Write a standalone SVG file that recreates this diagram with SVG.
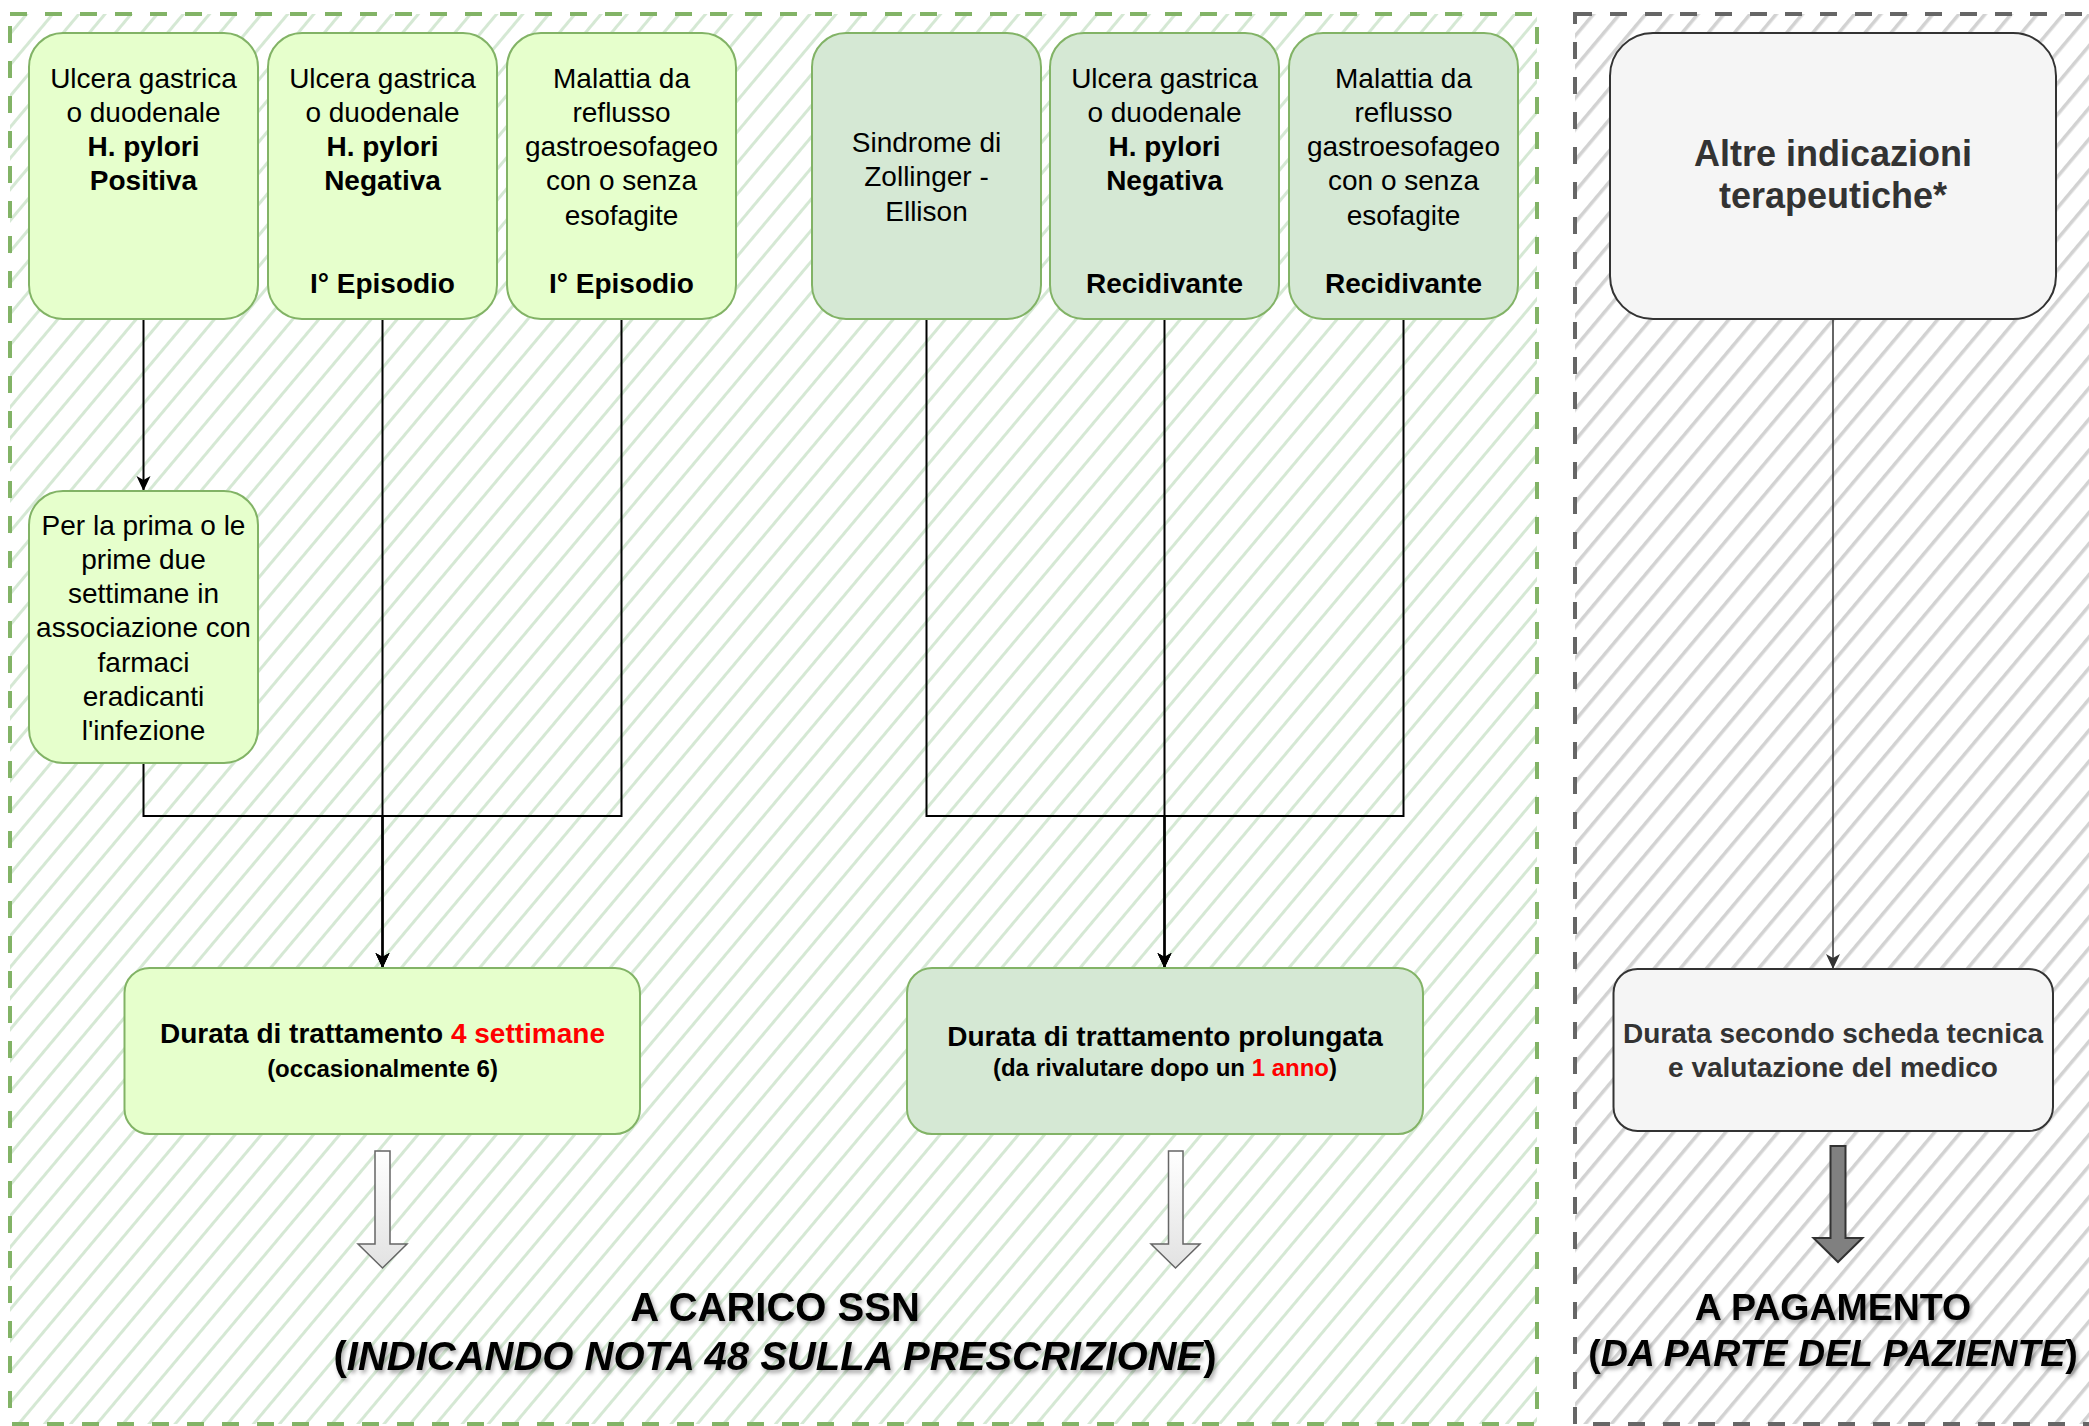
<svg xmlns="http://www.w3.org/2000/svg" width="2089" height="1426" viewBox="0 0 2089 1426">
<style>
  text { font-family: "Liberation Sans", Arial, sans-serif; text-anchor: middle; }
  .t28 { font-size: 28px; fill: #000; }
  .b { font-weight: bold; }
  .red { fill: #ff0000; }
  .g33 { fill: #333333; }
  .nodeL { fill: #e6ffcc; stroke: #82b366; stroke-width: 2; }
  .nodeD { fill: #d5e8d4; stroke: #82b366; stroke-width: 2; }
  .nodeG { fill: #f5f5f5; stroke: #333333; stroke-width: 2; }
  .edge { fill: none; stroke: #000; stroke-width: 2; marker-end: url(#arr); }
  .edgeG { fill: none; stroke: #333; stroke-width: 1.5; marker-end: url(#arrG); }
  .big { font-size: 40px; font-weight: bold; fill: #000; filter: url(#tshadow); }
</style>
<defs>
  <pattern id="hatchG" patternUnits="userSpaceOnUse" width="60" height="20" patternTransform="rotate(-50)">
    <rect x="0" y="8" width="60" height="3" fill="#d5e8d4"/>
  </pattern>
  <pattern id="hatchK" patternUnits="userSpaceOnUse" width="60" height="20" patternTransform="rotate(-50)">
    <rect x="0" y="8" width="60" height="3.5" fill="#d2d2d2"/>
  </pattern>
  <marker id="arr" markerUnits="userSpaceOnUse" viewBox="0 0 15 16" markerWidth="15" markerHeight="16" refX="15" refY="8" orient="auto">
    <path d="M0,1 L15,8 L0,15 L4,8 Z" fill="#000"/>
  </marker>
  <marker id="arrG" markerUnits="userSpaceOnUse" viewBox="0 0 15 16" markerWidth="15" markerHeight="16" refX="15" refY="8" orient="auto">
    <path d="M0,1 L15,8 L0,15 L4,8 Z" fill="#333"/>
  </marker>
  <linearGradient id="wgrad" x1="0" y1="0" x2="0" y2="1">
    <stop offset="0" stop-color="#ffffff"/>
    <stop offset="1" stop-color="#e2e2e2"/>
  </linearGradient>
  <filter id="tshadow" x="-10%" y="-40%" width="125%" height="190%">
    <feDropShadow dx="2" dy="3" stdDeviation="2" flood-color="#000" flood-opacity="0.35"/>
  </filter>
</defs>

<g id="containers">
  <rect id="ssn-area" x="10" y="14" width="1527" height="1410" fill="url(#hatchG)" stroke="#82b366" stroke-width="4" stroke-dasharray="17 18"/>
  <rect id="pay-area" x="1575" y="14" width="520" height="1410" fill="url(#hatchK)" stroke="#666666" stroke-width="4" stroke-dasharray="17 18"/>
</g>

<g id="connectors">
  <path class="edge" d="M143.5,319 V491"/>
  <path class="edge" d="M143.5,763 V816 H382.5 V968"/>
  <path class="edge" d="M382.5,319 V968"/>
  <path class="edge" d="M621.5,319 V816 H382.5 V968"/>
  <path class="edge" d="M926.5,319 V816 H1164.5 V968"/>
  <path class="edge" d="M1164.5,319 V968"/>
  <path class="edge" d="M1403.5,319 V816 H1164.5 V968"/>
  <path class="edgeG" d="M1833,319 V969"/>
</g>

<g id="n-hp-pos">
  <rect class="nodeL" x="29" y="33" width="229" height="286" rx="34"/>
  <text class="t28" x="143.5" y="87.5">Ulcera gastrica</text>
  <text class="t28" x="143.5" y="121.8">o duodenale</text>
  <text class="t28 b" x="143.5" y="156">H. pylori</text>
  <text class="t28 b" x="143.5" y="190.3">Positiva</text>
</g>
<g id="n-hp-neg-1">
  <rect class="nodeL" x="268" y="33" width="229" height="286" rx="34"/>
  <text class="t28" x="382.5" y="87.5">Ulcera gastrica</text>
  <text class="t28" x="382.5" y="121.8">o duodenale</text>
  <text class="t28 b" x="382.5" y="156">H. pylori</text>
  <text class="t28 b" x="382.5" y="190.3">Negativa</text>
  <text class="t28 b" x="382.5" y="293">I° Episodio</text>
</g>
<g id="n-gerd-1">
  <rect class="nodeL" x="507" y="33" width="229" height="286" rx="34"/>
  <text class="t28" x="621.5" y="87.5">Malattia da</text>
  <text class="t28" x="621.5" y="121.8">reflusso</text>
  <text class="t28" x="621.5" y="156">gastroesofageo</text>
  <text class="t28" x="621.5" y="190.3">con o senza</text>
  <text class="t28" x="621.5" y="224.6">esofagite</text>
  <text class="t28 b" x="621.5" y="293">I° Episodio</text>
</g>
<g id="n-zollinger">
  <rect class="nodeD" x="812" y="33" width="229" height="286" rx="34"/>
  <text class="t28" x="926.5" y="152">Sindrome di</text>
  <text class="t28" x="926.5" y="186.3">Zollinger -</text>
  <text class="t28" x="926.5" y="220.6">Ellison</text>
</g>
<g id="n-hp-neg-rec">
  <rect class="nodeD" x="1050" y="33" width="229" height="286" rx="34"/>
  <text class="t28" x="1164.5" y="87.5">Ulcera gastrica</text>
  <text class="t28" x="1164.5" y="121.8">o duodenale</text>
  <text class="t28 b" x="1164.5" y="156">H. pylori</text>
  <text class="t28 b" x="1164.5" y="190.3">Negativa</text>
  <text class="t28 b" x="1164.5" y="293">Recidivante</text>
</g>
<g id="n-gerd-rec">
  <rect class="nodeD" x="1289" y="33" width="229" height="286" rx="34"/>
  <text class="t28" x="1403.5" y="87.5">Malattia da</text>
  <text class="t28" x="1403.5" y="121.8">reflusso</text>
  <text class="t28" x="1403.5" y="156">gastroesofageo</text>
  <text class="t28" x="1403.5" y="190.3">con o senza</text>
  <text class="t28" x="1403.5" y="224.6">esofagite</text>
  <text class="t28 b" x="1403.5" y="293">Recidivante</text>
</g>
<g id="n-altre">
  <rect class="nodeG" x="1610" y="33" width="446" height="286" rx="43"/>
  <text class="b g33" style="font-size:36px" x="1833" y="165.7">Altre indicazioni</text>
  <text class="b g33" style="font-size:36px" x="1833" y="208">terapeutiche*</text>
</g>
<g id="n-eradicanti">
  <rect class="nodeL" x="29" y="491" width="229" height="272" rx="34"/>
  <text class="t28" x="143.5" y="534.5">Per la prima o le</text>
  <text class="t28" x="143.5" y="568.8">prime due</text>
  <text class="t28" x="143.5" y="603">settimane in</text>
  <text class="t28" x="143.5" y="637.3">associazione con</text>
  <text class="t28" x="143.5" y="671.6">farmaci</text>
  <text class="t28" x="143.5" y="706">eradicanti</text>
  <text class="t28" x="143.5" y="740.3">l'infezione</text>
</g>
<g id="n-durata-4">
  <rect class="nodeL" x="124.5" y="968" width="515.5" height="166" rx="25"/>
  <text class="t28 b" x="382.5" y="1043">Durata di trattamento <tspan class="red">4 settimane</tspan></text>
  <text class="b" style="font-size:24px" x="382.5" y="1077">(occasionalmente 6)</text>
</g>
<g id="n-durata-prol">
  <rect class="nodeD" x="907" y="968" width="516" height="166" rx="25"/>
  <text class="t28 b" x="1165" y="1046">Durata di trattamento prolungata</text>
  <text class="b" style="font-size:24px" x="1165" y="1076">(da rivalutare dopo un <tspan class="red">1 anno</tspan>)</text>
</g>
<g id="n-durata-scheda">
  <rect class="nodeG" x="1613.5" y="969" width="439.5" height="162" rx="24"/>
  <text class="t28 b g33" x="1833" y="1043">Durata secondo scheda tecnica</text>
  <text class="t28 b g33" x="1833" y="1077">e valutazione del medico</text>
</g>

<g id="n-arrow-ssn-1">
  <path d="M375,1151 H390 V1244 H407 L382.5,1268 L358,1244 H375 Z" fill="url(#wgrad)" stroke="#666" stroke-width="1.5"/>
</g>
<g id="n-arrow-ssn-2">
  <path d="M1168.5,1151 H1183 V1244 H1200 L1175.5,1268 L1151,1244 H1168.5 Z" fill="url(#wgrad)" stroke="#666" stroke-width="1.5"/>
</g>
<g id="n-arrow-pay">
  <path d="M1830.5,1146 H1845.5 V1238 H1862.5 L1838,1262 L1813.5,1238 H1830.5 Z" fill="#808080" stroke="#333" stroke-width="2"/>
</g>

<g id="n-label-ssn">
  <text class="big" x="775" y="1321">A CARICO SSN</text>
  <text class="big" x="775" y="1370">(<tspan font-style="italic">INDICANDO NOTA 48 SULLA PRESCRIZIONE</tspan>)</text>
</g>
<g id="n-label-pay">
  <text class="big" style="font-size:37.5px" x="1833" y="1320">A PAGAMENTO</text>
  <text class="big" style="font-size:37.5px" x="1833" y="1366">(<tspan font-style="italic">DA PARTE DEL PAZIENTE</tspan>)</text>
</g>
</svg>
